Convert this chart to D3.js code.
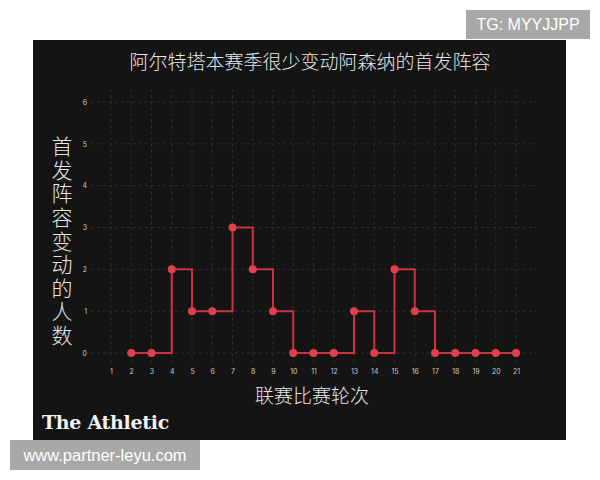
<!DOCTYPE html>
<html><head><meta charset="utf-8">
<script src="https://cdn.jsdelivr.net/npm/d3@7"></script>
<style>body{margin:0;background:#fff}svg{display:block}</style>
</head><body>
<script>
const rounds = [2,3,4,5,6,7,8,9,10,11,12,13,14,15,16,17,18,19,20,21];
const changes = [0,0,2,1,1,3,2,1,0,0,0,1,0,2,1,0,0,0,0,0];
const xTicks = d3.range(1,22);
const yTicks = [0,1,2,3,4,5,6];
const title = "阿尔特塔本赛季很少变动阿森纳的首发阵容";
const yTitle = "首发阵容变动的人数";
const xTitle = "联赛比赛轮次";
const brand = "The Athletic";
const tagTop = "TG: MYYJJPP";
const tagBottom = "www.partner-leyu.com";

const W=600,H=480;
const svg=d3.select("body").append("svg").attr("width",W).attr("height",H);
svg.append("rect").attr("x",33).attr("y",40).attr("width",533).attr("height",400).attr("fill","#141414");

const x=d3.scaleLinear().domain([0,22]).range([90.75,536.25]);
const y=d3.scaleLinear().domain([0,6]).range([353,102]);

const grid=svg.append("g").attr("stroke","#3a3a3a").attr("stroke-width",0.7).attr("stroke-dasharray","3,3");
grid.selectAll(".h").data(yTicks).join("line")
  .attr("x1",x(0)).attr("x2",x(22)).attr("y1",d=>y(d)).attr("y2",d=>y(d));
grid.selectAll(".v").data(xTicks).join("line")
  .attr("x1",d=>x(d)).attr("x2",d=>x(d)).attr("y1",y(6.3)).attr("y2",y(-0.25));

const xAxis=svg.append("g").attr("transform",`translate(0,${y(0)+19})`)
  .call(d3.axisBottom(x).tickValues(xTicks).tickSize(0).tickFormat(d3.format("d")));
xAxis.select(".domain").remove();
xAxis.selectAll("text").attr("fill","#c8c8c8").style("font-family","Inter, 'DejaVu Sans', sans-serif").style("font-size","7px").attr("dy","0.32em").attr("y",0);

const yAxis=svg.append("g").attr("transform",`translate(87,0)`)
  .call(d3.axisLeft(y).tickValues(yTicks).tickSize(0).tickFormat(d3.format("d")));
yAxis.select(".domain").remove();
yAxis.selectAll("text").attr("fill","#c8c8c8").style("font-family","Inter, 'DejaVu Sans', sans-serif").style("font-size","7px").attr("x",0);

const pts=rounds.map((r,i)=>[r,changes[i]]);
svg.append("path").datum(pts)
  .attr("d",d3.line().x(d=>x(d[0])).y(d=>y(d[1])).curve(d3.curveStepAfter))
  .attr("fill","none").attr("stroke","#c9333d").attr("stroke-width",2);
svg.selectAll(".dot").data(pts).join("circle")
  .attr("cx",d=>x(d[0])).attr("cy",d=>y(d[1])).attr("r",4).attr("fill","#e0404b");

const cjk="'Noto Sans CJK SC', sans-serif";
svg.append("text").attr("x",310).attr("y",69).attr("text-anchor","middle")
  .attr("fill","#e6e6e6").style("font-family",cjk).style("font-size","19px").style("font-weight",300).text(title);
svg.append("text").attr("x",312).attr("y",403).attr("text-anchor","middle")
  .attr("fill","#e6e6e6").style("font-family",cjk).style("font-size","19px").style("font-weight",300).text(xTitle);
svg.append("text").attr("x",62).attr("y",242).attr("text-anchor","middle")
  .style("writing-mode","vertical-rl").style("letter-spacing","2.6px")
  .attr("fill","#e6e6e6").style("font-family",cjk).style("font-size","21px").style("font-weight",300).text(yTitle);

svg.append("text").attr("x",42).attr("y",429).attr("fill","#f2f2f2")
  .style("font-family","'DejaVu Serif', serif").style("font-weight","bold").style("font-size","19px").style("letter-spacing","-0.3px").text(brand);

svg.append("rect").attr("x",466).attr("y",10).attr("width",124).attr("height",29).attr("fill","#a8a8a8");
svg.append("text").attr("x",528).attr("y",30).attr("text-anchor","middle").attr("fill","#fff")
  .style("font-family","'Liberation Sans', Arial, sans-serif").style("font-size","16px").text(tagTop);
svg.append("rect").attr("x",10).attr("y",440).attr("width",190).attr("height",30).attr("fill","#a8a8a8");
svg.append("text").attr("x",105).attr("y",461).attr("text-anchor","middle").attr("fill","#fff")
  .style("font-family","'Liberation Sans', Arial, sans-serif").style("font-size","16.5px").text(tagBottom);
</script>
</body></html>
